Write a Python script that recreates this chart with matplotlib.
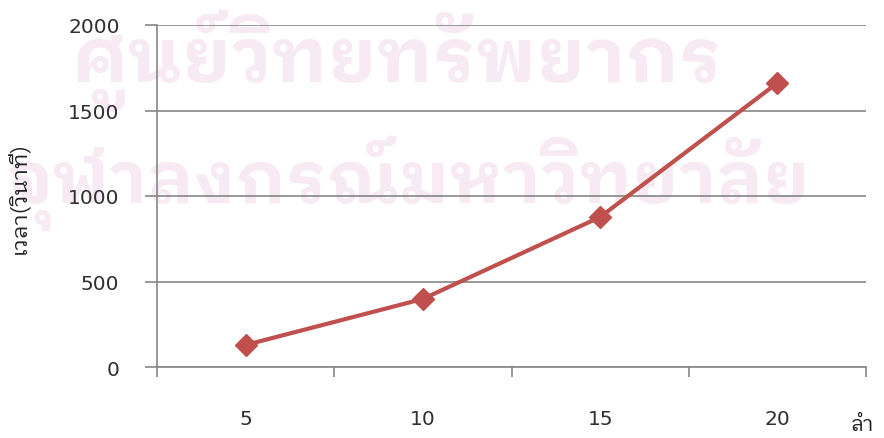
import numpy as np
import matplotlib
matplotlib.use('Agg')
import matplotlib.pyplot as plt
from matplotlib import font_manager
from matplotlib.ft2font import FT2Font
from matplotlib.ticker import FixedLocator

# %% data
categories = ['5', '10', '15', '20']
times = [129, 398, 877, 1661]
y_ticks = [0, 500, 1000, 1500, 2000]
y_label = 'เวลา(วินาที)'
x_label = 'ลำ'
watermark = ['ศูนย์วิทยทรัพยากร', 'จุฬาลงกรณ์มหาวิทยาลัย']


# %% fonts with Thai glyphs (looped style preferred, like the original)
def thai_fonts():
    names = []
    for f in font_manager.fontManager.ttflist:
        try:
            if 0x0E01 in FT2Font(f.fname).get_charmap() and f.name not in names:
                names.append(f.name)
        except Exception:
            pass
    return names


names = thai_fonts()
looped = [n for n in names if 'Looped' in n]
sans = [n for n in names if 'Sans' in n]
thai = (looped or sans or names or ['DejaVu Sans'])[0]
fam = [thai, 'DejaVu Sans']

grey = '#868686'
red = '#C0504D'
txt = '#303030'

fig = plt.figure(figsize=(8.84, 4.39), dpi=100)
ax = fig.add_axes([157/884, 1 - 368/439, (866 - 157)/884, (368 - 26)/439])

# watermark behind everything
fig.text(397/884, 1 - 60/439, watermark[0], family=fam, fontsize=55, weight='bold',
         color='#F8EAF3', ha='center', va='center', zorder=-10)
fig.text(408/884, 1 - 183/439, watermark[1], family=fam, fontsize=52, weight='bold',
         color='#F8EAF3', ha='center', va='center', zorder=-10)
ax.patch.set_alpha(0)

x = np.arange(1, len(categories) + 1)
ax.plot(x, times, color=red, lw=3, marker='D', ms=11, zorder=3)

ax.set_xlim(0.5, len(categories) + 0.5)
ax.set_ylim(0, 2000)
ax.set_yticks(y_ticks)
ax.set_yticklabels([str(v) for v in y_ticks])
ax.yaxis.grid(True, color=grey, lw=1.2)
ax.set_axisbelow(True)

ax.xaxis.set_major_locator(FixedLocator(np.arange(0.5, len(categories) + 1, 1)))
ax.set_xticklabels([])
ax.xaxis.set_minor_locator(FixedLocator(x))
ax.set_xticklabels(categories, minor=True)
ax.tick_params(axis='x', which='major', length=7, width=1.2, color=grey, direction='out')
ax.tick_params(axis='x', which='minor', length=0, pad=30, labelsize=14.5, labelcolor=txt)
ax.tick_params(axis='y', length=9, width=1.2, color=grey, pad=18, labelsize=14.5,
               labelcolor=txt)

for s in ['top', 'right']:
    ax.spines[s].set_visible(False)
for s in ['bottom', 'left']:
    ax.spines[s].set_color(grey)
    ax.spines[s].set_linewidth(1.2)

fig.text(20/884, 1 - 198/439, y_label, family=fam, fontsize=16, rotation=90,
         ha='center', va='center', color='#222222')
fig.text(862/884, 1 - 426/439, x_label, family=fam, fontsize=15,
         ha='center', va='center', color='#222222')

fig.savefig('out.png', dpi=100)
